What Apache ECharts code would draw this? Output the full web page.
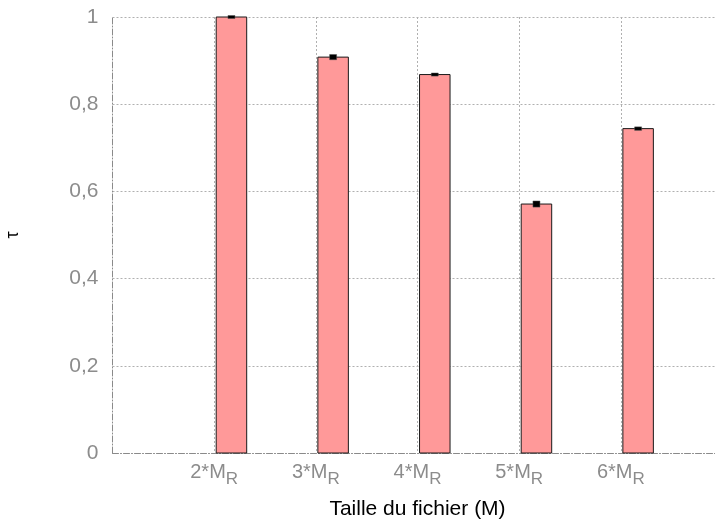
<!DOCTYPE html>
<html>
<head>
<meta charset="utf-8">
<script src="https://cdn.jsdelivr.net/npm/echarts@6/dist/echarts.min.js"></script>
<style>
html,body{margin:0;padding:0;background:#fff;}
#chart{width:715px;height:524px;}
</style>
</head>
<body>
<div id="chart"></div>
<script>
// Data
const categoryBase = ['2*M', '3*M', '4*M', '5*M', '6*M'];
const categorySub = ['R', 'R', 'R', 'R', 'R'];
const categoryPos = [1, 2, 3, 4, 5];
const tauValues = [1.0, 0.908, 0.868, 0.571, 0.744];
const tauErrors = [0.003, 0.006, 0.0035, 0.007, 0.004];
const yTicks = [0, 0.2, 0.4, 0.6, 0.8, 1];

const BAR_OFFSET = 0.02;
const BAR_W = 0.3;
const tickColor = '#8c8c8c';
const font = 'Liberation Sans, Arial, Helvetica, sans-serif';

const barData = categoryPos.map((p, i) => [p, tauValues[i]]);
const errData = categoryPos.map((p, i) => [p, tauValues[i], tauErrors[i]]);

const chart = echarts.init(document.getElementById('chart'), null, {renderer: 'canvas'});
chart.setOption({
  animation: false,
  backgroundColor: '#ffffff',
  grid: {left: 112.5, top: 17, width: 610, height: 436, containLabel: false, outerBoundsMode: 'none'},
  xAxis: {
    type: 'value',
    min: 0, max: 6, interval: 1,
    name: 'Taille du fichier (M)',
    nameLocation: 'middle',
    nameGap: 46,
    nameTextStyle: {color: '#000', fontSize: 21, fontFamily: font},
    axisLine: {show: true, lineStyle: {color: '#8a8a8a', width: 1, type: [6, 2, 1, 2]}},
    axisTick: {show: false},
    splitLine: {show: true, showMinLine: false, lineStyle: {color: '#b0b0b0', width: 1, type: [2, 2]}},
    axisLabel: {
      margin: 9,
      color: tickColor,
      fontFamily: font,
      formatter: function (v) {
        const i = categoryPos.indexOf(v);
        if (i < 0) return '';
        return '{a|' + categoryBase[i] + '}{s|' + categorySub[i] + '}';
      },
      rich: {
        a: {fontSize: 20, lineHeight: 20, verticalAlign: 'top', color: tickColor, fontFamily: font},
        s: {fontSize: 17, lineHeight: 35, verticalAlign: 'middle', color: tickColor, fontFamily: font}
      }
    }
  },
  yAxis: {
    type: 'value',
    min: 0, max: 1, interval: 0.2,
    name: 'τ',
    nameLocation: 'middle',
    nameGap: 90,
    nameTextStyle: {color: '#000', fontSize: 18, fontFamily: font},
    axisLine: {show: true, lineStyle: {color: '#8a8a8a', width: 1, type: [6, 2, 1, 2]}},
    axisTick: {show: false},
    splitLine: {show: true, showMinLine: false, showMaxLine: true, lineStyle: {color: '#b0b0b0', width: 1, type: [2, 2]}},
    axisLabel: {
      margin: 14,
      color: tickColor,
      fontSize: 21,
      fontFamily: font,
      formatter: function (v) {
        return String(parseFloat(v.toFixed(2))).replace('.', ',');
      }
    }
  },
  series: [
    {
      type: 'custom',
      data: barData,
      clip: false,
      renderItem: function (params, api) {
        const x = api.value(0) + BAR_OFFSET, y = api.value(1);
        const p0 = api.coord([x, 0]);
        const p1 = api.coord([x + BAR_W, y]);
        return {
          type: 'rect',
          shape: {x: p0[0], y: p1[1], width: p1[0] - p0[0], height: p0[1] - p1[1]},
          style: {fill: '#ff9999', stroke: '#1a1a1a', lineWidth: 1}
        };
      },
      z: 2
    },
    {
      type: 'custom',
      data: errData,
      clip: false,
      renderItem: function (params, api) {
        const x = api.value(0) + BAR_OFFSET + BAR_W / 2, y = api.value(1), e = api.value(2);
        const hi = api.coord([x, y + e]);
        const lo = api.coord([x, y - e]);
        let h = lo[1] - hi[1];
        let top = hi[1];
        if (h < 3) { top = (hi[1] + lo[1]) / 2 - 1.5; h = 3; }
        return {
          type: 'rect',
          shape: {x: hi[0] - 3.5, y: top, width: 7, height: h},
          style: {fill: '#000', stroke: '#555', lineWidth: 0.5}
        };
      },
      z: 3
    }
  ]
});
</script>
</body>
</html>
